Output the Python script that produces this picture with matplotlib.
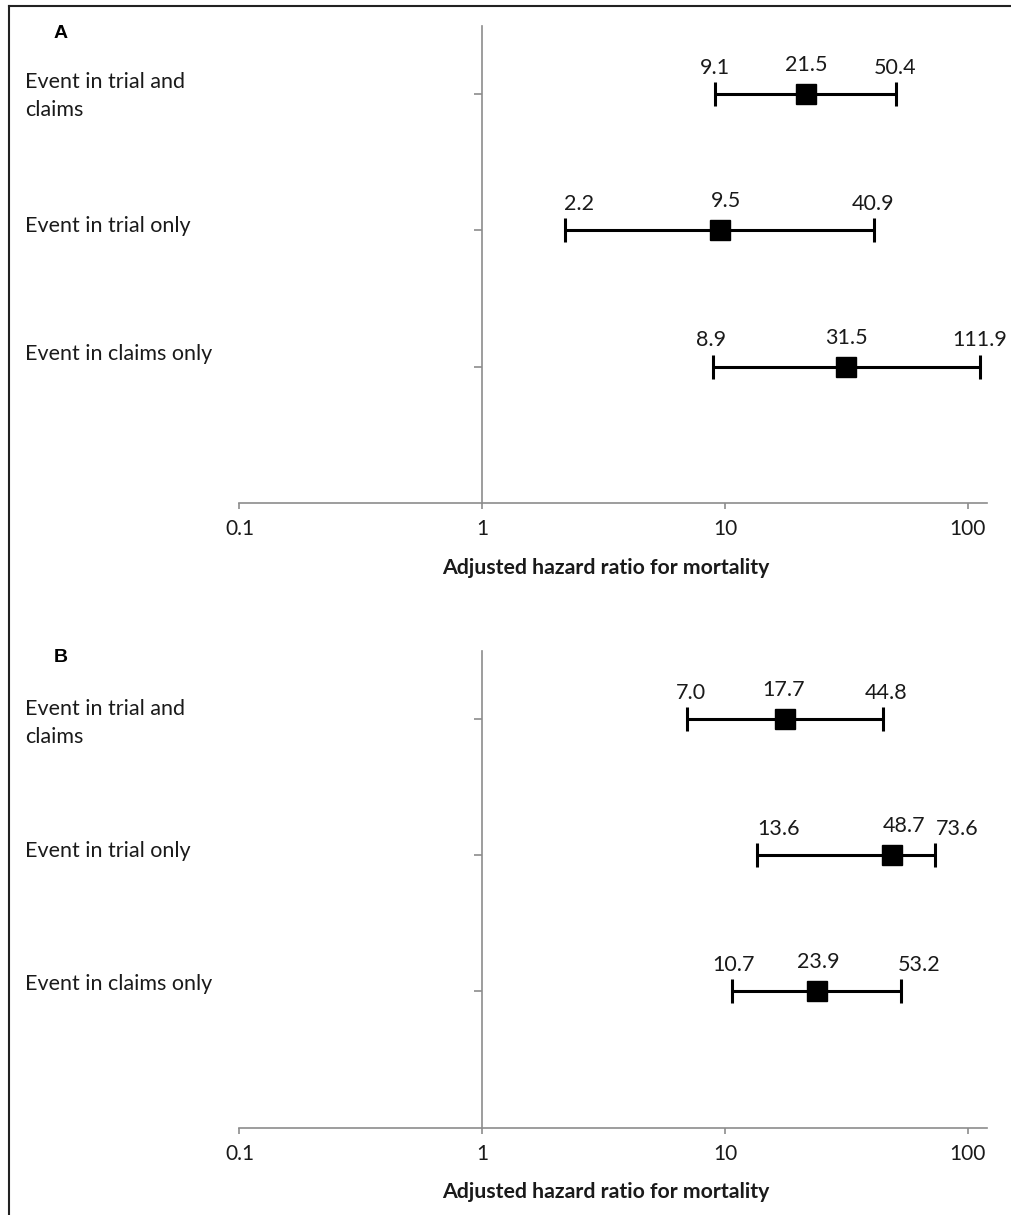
import matplotlib
matplotlib.use("Agg")
import matplotlib.pyplot as plt
from matplotlib.lines import Line2D

plt.rcParams['font.family'] = ['Lato', 'DejaVu Sans']

# Gegevens
categories = ['Event in trial and\nclaims', 'Event in trial only', 'Event in claims only']
rows = [3, 2, 1]

hr_a = [21.5, 9.5, 31.5]
lo_a = [9.1, 2.2, 8.9]
hi_a = [50.4, 40.9, 111.9]

hr_b = [17.7, 48.7, 23.9]
lo_b = [7.0, 13.6, 10.7]
hi_b = [44.8, 73.6, 53.2]

xticks = [0.1, 1, 10, 100]
xtick_labels = ['0.1', '1', '10', '100']
xlabel = 'Adjusted hazard ratio for mortality'

# Handmatige verschuiving (px) van de waardelabels: (onder, punt, boven) per rij
shift_a = [(0, 1, 0), (14, 6, 0), (-2, 0, 0)]
shift_b = [(4, -2, 3), (21, 12, 22), (1, 1, 18)]
# Basislijn van de rijlabels t.o.v. de rij (px, positief = omlaag)
label_dy_a = [-6, 2, -7]
label_dy_b = [-4, 2, -1]

W, H = 1011, 1215
GREY = '#8c8c8c'
TXT = '#1a1a1a'

fig = plt.figure(figsize=(W / 100, H / 100), dpi=100)


def px_axes(left, top, right, bottom):
    return fig.add_axes([left / W, 1 - bottom / H, (right - left) / W, (bottom - top) / H])


def teken_paneel(ax, hr, lo, hi, shifts, label_dy, letter, letter_y):
    xerr = [[h - l for h, l in zip(hr, lo)], [u - h for h, u in zip(hr, hi)]]
    ax.errorbar(hr, rows, xerr=xerr, fmt='s', color='black', ms=13.8,
                elinewidth=2.2, capsize=8.5, capthick=2.2, zorder=3)

    ax.set_xscale('log')
    ax.set_xlim(0.1, 120)
    ax.set_ylim(0, 3.5)
    ax.set_xticks(xticks)
    ax.set_xticklabels(xtick_labels)
    ax.minorticks_off()
    ax.set_yticks(rows)
    ax.set_yticklabels([])

    for side in ['top', 'right']:
        ax.spines[side].set_visible(False)
    ax.spines['left'].set_position(('data', 1))
    for side in ['left', 'bottom']:
        ax.spines[side].set_color(GREY)
        ax.spines[side].set_linewidth(1.2)
    ax.tick_params(axis='y', direction='out', length=6, width=1.2, color=GREY)
    ax.tick_params(axis='x', direction='out', length=4, width=1.2, color=GREY,
                   pad=8, labelsize=15, labelcolor=TXT)

    # Waardelabels boven de foutbalken
    for r, h, l, u, s in zip(rows, hr, lo, hi, shifts):
        for val, dx, dy in [(l, s[0], 20), (h, s[1], 23), (u, s[2], 20)]:
            ax.annotate(f'{val:.1f}', xy=(val, r), xytext=(dx, dy),
                        textcoords='offset pixels', ha='center', va='baseline',
                        fontsize=15.5, color=TXT)

    # Rijlabels links
    for r, cat, dy in zip(rows, categories, label_dy):
        for i, regel in enumerate(cat.split('\n')):
            ax.annotate(regel, xy=(25 / W, r), xycoords=('figure fraction', 'data'),
                        xytext=(0, -(dy + 28 * i)), textcoords='offset pixels',
                        ha='left', va='baseline', fontsize=15.5, color=TXT)

    ax.annotate(xlabel, xy=(0.5, 0), xycoords='axes fraction', xytext=(-7, -65),
                textcoords='offset pixels', ha='center', va='center',
                fontsize=15.3, fontweight='bold', color=TXT)

    fig.text(61 / W, 1 - letter_y / H, letter, family=['Liberation Sans', 'DejaVu Sans'],
             fontweight='bold', fontsize=14, ha='center', va='center')


ax_a = px_axes(239.5, 26, 987, 502.7)
teken_paneel(ax_a, hr_a, lo_a, hi_a, shift_a, label_dy_a, 'A', 33)

ax_b = px_axes(239.5, 651, 987, 1127.5)
teken_paneel(ax_b, hr_b, lo_b, hi_b, shift_b, label_dy_b, 'B', 658)

# Kader links en boven
fig.add_artist(Line2D([9 / W, 9 / W], [0, 1 - 6 / H], color='#222222', lw=1.5))
fig.add_artist(Line2D([9 / W, 1], [1 - 6 / H, 1 - 6 / H], color='#222222', lw=1.5))

fig.savefig('out.png', dpi=100)
